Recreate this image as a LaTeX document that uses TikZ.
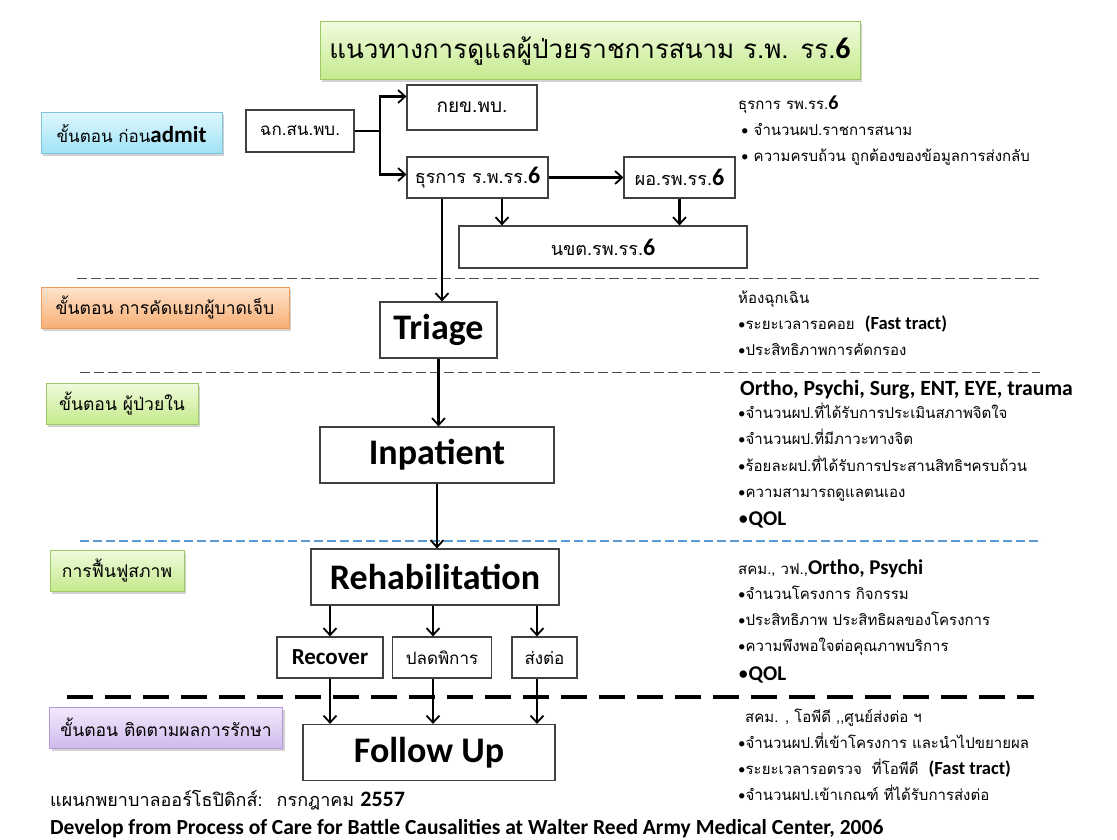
\documentclass[tikz,border=0pt]{standalone}
\usepackage{fontspec}
\setmainfont{Carlito}
\newfontfamily\thai[Script=Thai]{Loma}
\usetikzlibrary{arrows.meta,shadows,calc}
\newcommand\fs[1]{\fontsize{#1}{#1}\selectfont}
\newcommand\lat[1]{{\rmfamily #1}}
\definecolor{tg1}{HTML}{F0FBDD}\definecolor{tg2}{HTML}{C4EA8C}\definecolor{tgb}{HTML}{9CC964}
\definecolor{bl1}{HTML}{DDF6FD}\definecolor{bl2}{HTML}{9FE2F6}\definecolor{blb}{HTML}{7CC3DC}
\definecolor{or1}{HTML}{FDE3CB}\definecolor{or2}{HTML}{F8AE74}\definecolor{orb}{HTML}{EE9C5C}
\definecolor{pu1}{HTML}{F3EAFC}\definecolor{pu2}{HTML}{D0BAEC}\definecolor{pub}{HTML}{B49AD6}
\definecolor{dblue}{HTML}{5B9BD5}
\tikzset{
  box/.style={draw=black!75, line width=1.2pt, fill=white, inner sep=0pt},
  lab/.style={draw, line width=1pt, inner sep=0pt,
    drop shadow={opacity=0.35, shadow xshift=2pt, shadow yshift=-2.5pt}},
  glab/.style={lab, draw=tgb, top color=tg1, bottom color=tg2},
  arr/.style={-{Straight Barb[length=7pt,width=13pt,line width=1.8pt]}, line width=2.1pt},
  ln/.style={line width=2.1pt},
  gdash/.style={draw=black!70, line width=1pt, dash pattern=on 10pt off 4pt},
  bdash/.style={draw=dblue, line width=1.5pt, dash pattern=on 9pt off 4pt},
  kdash/.style={draw=black, line width=3.5pt, dash pattern=on 26pt off 12pt},
  rt/.style={anchor=base west, inner sep=0pt, font=\thai\fs{15}},
}
\begin{document}
\begin{tikzpicture}[x=1pt,y=-1pt]
\useasboundingbox (0,0) rectangle (1117,840);
\fill[white] (0,0) rectangle (1117,840);

% title
\node[glab, minimum width=540, minimum height=58] (title) at (590,51)
  {\thai\fs{26}แนวทางการดูแลผู้ป่วยราชการสนาม ร.พ. รร.\lat{\bfseries\fs{30}6}};

% stage labels
\node[lab, draw=blb, top color=bl1, bottom color=bl2, minimum width=181, minimum height=41] (l1) at (131.5,133.5)
  {\thai\fs{17}ขั้นตอน ก่อน\lat{\bfseries\fs{23}admit}};
\node[lab, draw=orb, top color=or1, bottom color=or2, minimum width=248, minimum height=41] (l2) at (165,308)
  {\thai\fs{17.5}ขั้นตอน การคัดแยกผู้บาดเจ็บ};
\node[glab, minimum width=152, minimum height=41] (l3) at (122,403.5)
  {\thai\fs{17.5}ขั้นตอน ผู้ป่วยใน};
\node[glab, minimum width=134, minimum height=41] (l4) at (117,570.5)
  {\thai\fs{17.5}การฟื้นฟูสภาพ};
\node[lab, draw=pub, top color=pu1, bottom color=pu2, minimum width=233, minimum height=41] (l5) at (166,727.5)
  {\thai\fs{17.5}ขั้นตอน ติดตามผลการรักษา};

% separators
\draw[gdash] (77,278) -- (1040,278);
\draw[gdash] (80,372) -- (1040,372);
\draw[bdash] (80,541) -- (1042,541);
\draw[kdash] (67,697) -- (1034,697);

% top flow
\node[box, minimum width=108, minimum height=42] (chk) at (300,131) {\thai\fs{17}ฉก.สน.พบ.};
\node[box, minimum width=130, minimum height=45] (kyk) at (472,107.5) {\thai\fs{19}กยข.พบ.};
\node[box, minimum width=141, minimum height=41] (tkr) at (477.5,177.5) {\thai\fs{18}ธุรการ ร.พ.รร.\lat{\bfseries\fs{24}6}};
\node[box, minimum width=111, minimum height=41] (por) at (679.5,177.5) {\thai\fs{18}ผอ.รพ.รร.\lat{\bfseries\fs{24}6}};
\node[box, minimum width=288, minimum height=42] (nkt) at (603,247) {\thai\fs{18}นขต.รพ.รร.\lat{\bfseries\fs{24}6}};

\coordinate (split) at (380,131);
\draw[ln] (chk.east) -- (split);
\draw[arr] (split) |- ([yshift=11pt]kyk.west);
\draw[arr] (split) |- ([yshift=3pt]tkr.west);
\draw[arr] (tkr.east) -- (por.west);
\draw[arr] (tkr.south -| 502,0) -- (nkt.north -| 502,0);
\draw[arr] (por.south) -- (por.south |- nkt.north);

% main flow
\node[box, minimum width=117, minimum height=56] (tri) at (438.5,330) {\lat{\bfseries\fs{36}Triage}};
\node[box, minimum width=234, minimum height=56] (inp) at (437,455) {\lat{\bfseries\fs{36}Inpatient}};
\node[box, minimum width=248, minimum height=56] (reh) at (435,577) {\lat{\bfseries\fs{36}Rehabilitation}};
\node[box, minimum width=106, minimum height=41] (rec) at (330,657.5) {\lat{\bfseries\fs{23}Recover}};
\node[box, minimum width=99, minimum height=41] (pld) at (442,657.5) {\thai\fs{17}ปลดพิการ};
\node[box, minimum width=65, minimum height=41] (sng) at (544.5,657.5) {\thai\fs{17}ส่งต่อ};
\node[box, minimum width=252, minimum height=56] (fu) at (429,752.5) {\lat{\bfseries\fs{36}Follow Up}};

\draw[arr] (tkr.south -| 442,0) -- (tri.north -| 442,0);
\draw[arr] (tri.south) -- (tri.south |- inp.north);
\draw[arr] (inp.south) -- (inp.south |- reh.north);
\draw[arr] (reh.south -| rec.north) -- (rec.north);
\draw[arr] (reh.south -| 433,0) -- (pld.north -| 433,0);
\draw[arr] (reh.south -| 537,0) -- (sng.north -| 537,0);
\draw[arr] (rec.south) -- (rec.south |- fu.north);
\draw[arr] (pld.south -| 433,0) -- (fu.north -| 433,0);
\draw[arr] (sng.south -| 537,0) -- (fu.north -| 537,0);

% right text blocks
\node[rt] (a0) at (738,110) {ธุรการ รพ.รร.\lat{\bfseries\fs{20}6}};
\node[rt] (a1) at (741,136) {\lat{•} จำนวนผป.ราชการสนาม};
\node[rt] (a2) at (741,162) {\lat{•} ความครบถ้วน ถูกต้องของข้อมูลการส่งกลับ};

\node[rt] (b0) at (738,303) {ห้องฉุกเฉิน};
\node[rt] (b1) at (738,329) {\lat{•}ระยะเวลารอคอย ~\lat{\bfseries\fs{18.5}(Fast tract)}};
\node[rt] (b2) at (738,355) {\lat{•}ประสิทธิภาพการคัดกรอง};

\node[rt, font=\bfseries\fs{21.7}] (c0) at (740,395) {Ortho, Psychi, Surg, ENT, EYE, trauma};
\node[rt] (c1) at (738,418) {\lat{•}จำนวนผป.ที่ได้รับการประเมินสภาพจิตใจ};
\node[rt] (c2) at (738,444) {\lat{•}จำนวนผป.ที่มีภาวะทางจิต};
\node[rt] (c3) at (738,471) {\lat{•}ร้อยละผป.ที่ได้รับการประสานสิทธิฯครบถ้วน};
\node[rt] (c4) at (738,497) {\lat{•}ความสามารถดูแลตนเอง};
\node[rt, font=\bfseries\fs{21}] (c5) at (738,525) {{\mdseries•}QOL};

\node[rt] (d0) at (738,574) {สคม., วฟ.,\lat{\bfseries\fs{21}Ortho, Psychi}};
\node[rt] (d1) at (738,599) {\lat{•}จำนวนโครงการ กิจกรรม};
\node[rt] (d2) at (738,625) {\lat{•}ประสิทธิภาพ ประสิทธิผลของโครงการ};
\node[rt] (d3) at (738,651) {\lat{•}ความพึงพอใจต่อคุณภาพบริการ};
\node[rt, font=\bfseries\fs{21}] (d4) at (738,680) {{\mdseries•}QOL};

\node[rt] (e0) at (745,722) {สคม. , โอพีดี ,,ศูนย์ส่งต่อ ฯ};
\node[rt] (e1) at (738,748) {\lat{•}จำนวนผป.ที่เข้าโครงการ และนำไปขยายผล};
\node[rt] (e2) at (738,774) {\lat{•}ระยะเวลารอตรวจ ~ที่โอพีดี ~\lat{\bfseries\fs{18.5}(Fast tract)}};
\node[rt] (e3) at (738,800) {\lat{•}จำนวนผป.เข้าเกณฑ์ ที่ได้รับการส่งต่อ};

% footer
\node[rt, font=\thai\fs{18}] (f1) at (50,806) {แผนกพยาบาลออร์โธปิดิกส์: ~กรกฎาคม \lat{\bfseries\fs{22}2557}};
\node[rt, font=\bfseries\fs{21.5}] (f2) at (50,834) {Develop from Process of Care for Battle Causalities at Walter Reed Army Medical Center, 2006};
\end{tikzpicture}
\end{document}
